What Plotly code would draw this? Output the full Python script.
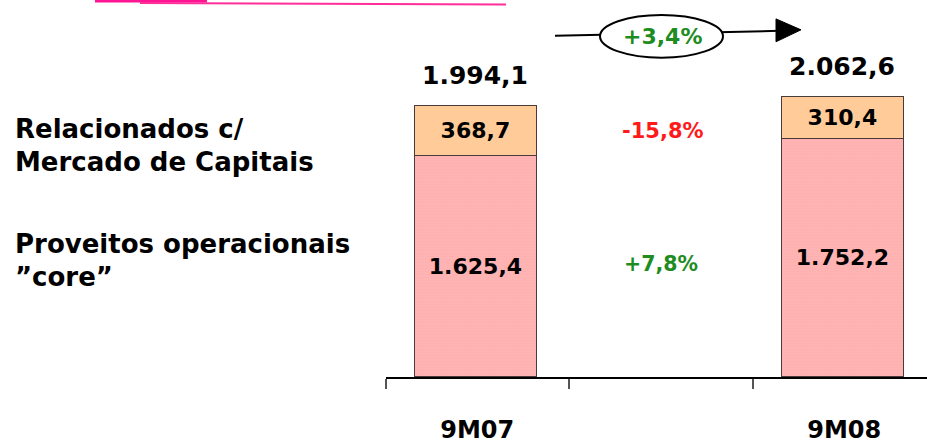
import plotly.graph_objects as go

# ---- data ----
categories = ["9M07", " ", "9M08"]
bar_periods = ["9M07", "9M08"]
core_values = [1625.4, 1752.2]          # Proveitos operacionais "core"
capital_values = [368.7, 310.4]         # Relacionados c/ Mercado de Capitais
totals = [1994.1, 2062.6]
core_labels = ["1.625,4", "1.752,2"]
capital_labels = ["368,7", "310,4"]
total_labels = ["1.994,1", "2.062,6"]
var_capital = "-15,8%"
var_core = "+7,8%"
var_total = "+3,4%"
series_names = ["Proveitos operacionais \u201ccore\u201d", "Relacionados c/ Mercado de Capitais"]

W, H = 927, 444
FONT = "DejaVu Sans"
PINK = "#FFB3B3"
PEACH = "#FFCC99"
EDGE = "#4a3a3a"
GREEN = "#1E8C1E"
RED = "#FF1A1A"

BAR_W = 0.665
BAR_OFF = -BAR_W / 2 - 0.01

fig = go.Figure()
fig.add_trace(go.Bar(
    x=bar_periods, y=core_values, name=series_names[0],
    marker=dict(color=PINK, line=dict(color=EDGE, width=1.2),
                pattern=dict(shape=".", fgcolor="#F4A6A6", size=3, solidity=0.15)),
    text=core_labels, textposition="inside", insidetextanchor="middle",
    textfont=dict(family=FONT, size=22, color="black", weight="bold"),
    width=BAR_W, offset=BAR_OFF,
))
fig.add_trace(go.Bar(
    x=bar_periods, y=capital_values, name=series_names[1],
    marker=dict(color=PEACH, line=dict(color=EDGE, width=1.2)),
    text=capital_labels, textposition="inside", insidetextanchor="middle",
    textfont=dict(family=FONT, size=22, color="black", weight="bold"),
    width=BAR_W, offset=BAR_OFF,
))

ann = []
# totals above bars
for p, t, lab in zip(bar_periods, totals, total_labels):
    ann.append(dict(x=p, y=t, xref="x", yref="y", text=lab, showarrow=False,
                    yanchor="middle", yshift=30, xshift=-2,
                    font=dict(family=FONT, size=25, color="black", weight="bold")))
# variations in middle column
ann.append(dict(x=" ", y=core_values[0] + capital_values[0] / 2, xref="x", yref="y",
                text=var_capital, showarrow=False, xshift=2,
                font=dict(family=FONT, size=21, color=RED, weight="bold")))
ann.append(dict(x=" ", y=core_values[0] / 2, xref="x", yref="y",
                text=var_core, showarrow=False, xshift=0, yshift=2,
                font=dict(family=FONT, size=20.5, color=GREEN, weight="bold")))

# left legend-like labels
def px(x):
    return x / W

def py(y):
    return (379 - y) / 379

left_lines = [("Relacionados c/", 130), ("Mercado de Capitais", 163),
              ("Proveitos operacionais", 245), ("\u201dcore\u201d", 278)]
for txt, yy in left_lines:
    ann.append(dict(x=px(13), y=py(yy), xref="paper", yref="paper", text=txt,
                    showarrow=False, xanchor="left", yanchor="middle",
                    font=dict(family=FONT, size=26, color="black", weight="bold")))

# total growth in ellipse
ann.append(dict(x=px(662), y=py(37), xref="paper", yref="paper", text=var_total,
                showarrow=False, xanchor="center", yanchor="middle",
                font=dict(family=FONT, size=22, color=GREEN, weight="bold")))

shapes = [
    # arrow line
    dict(type="line", xref="paper", yref="paper", x0=px(555), y0=py(36), x1=px(780), y1=py(31),
         line=dict(color="black", width=2)),
    # arrow head
    dict(type="path", xref="paper", yref="paper",
         path=f"M {px(776)},{py(19)} L {px(801)},{py(30)} L {px(776)},{py(42)} Z",
         fillcolor="black", line=dict(color="black", width=1)),
    # ellipse
    dict(type="circle", xref="paper", yref="paper", x0=px(600), x1=px(723), y0=py(15), y1=py(58),
         fillcolor="white", line=dict(color="black", width=2)),
    # decorative pink swoosh at top
    dict(type="line", xref="paper", yref="paper", x0=px(95), y0=py(1), x1=px(207), y1=py(1),
         line=dict(color="#FF1493", width=3)),
    dict(type="line", xref="paper", yref="paper", x0=px(140), y0=py(3), x1=px(506), y1=py(4.5),
         line=dict(color="#FF2E9A", width=2)),
]

fig.update_layout(
    barmode="stack",
    width=W, height=H,
    margin=dict(l=0, r=0, t=0, b=65),
    paper_bgcolor="white", plot_bgcolor="white",
    showlegend=False,
    annotations=ann,
    shapes=shapes,
    font=dict(family=FONT),
)
fig.update_xaxes(
    domain=[385.5 / W, 1],
    type="category", categoryorder="array", categoryarray=categories,
    range=[-0.5, -0.5 + (W - 385.5) / 183.5],
    tickson="boundaries", ticks="outside", ticklen=10, tickcolor="#555", tickwidth=1.5,
    showline=True, linecolor="black", linewidth=1.5,
    showgrid=False, zeroline=False,
    tickfont=dict(family=FONT, size=24, color="black", weight="bold"),
    ticklabelstandoff=30,
)
fig.update_yaxes(range=[0, 379 / (273 / 1994.1)], visible=False, showgrid=False)

fig.write_html("out.html", post_script="document.body.style.margin='0';",
               config={"displayModeBar": False})
